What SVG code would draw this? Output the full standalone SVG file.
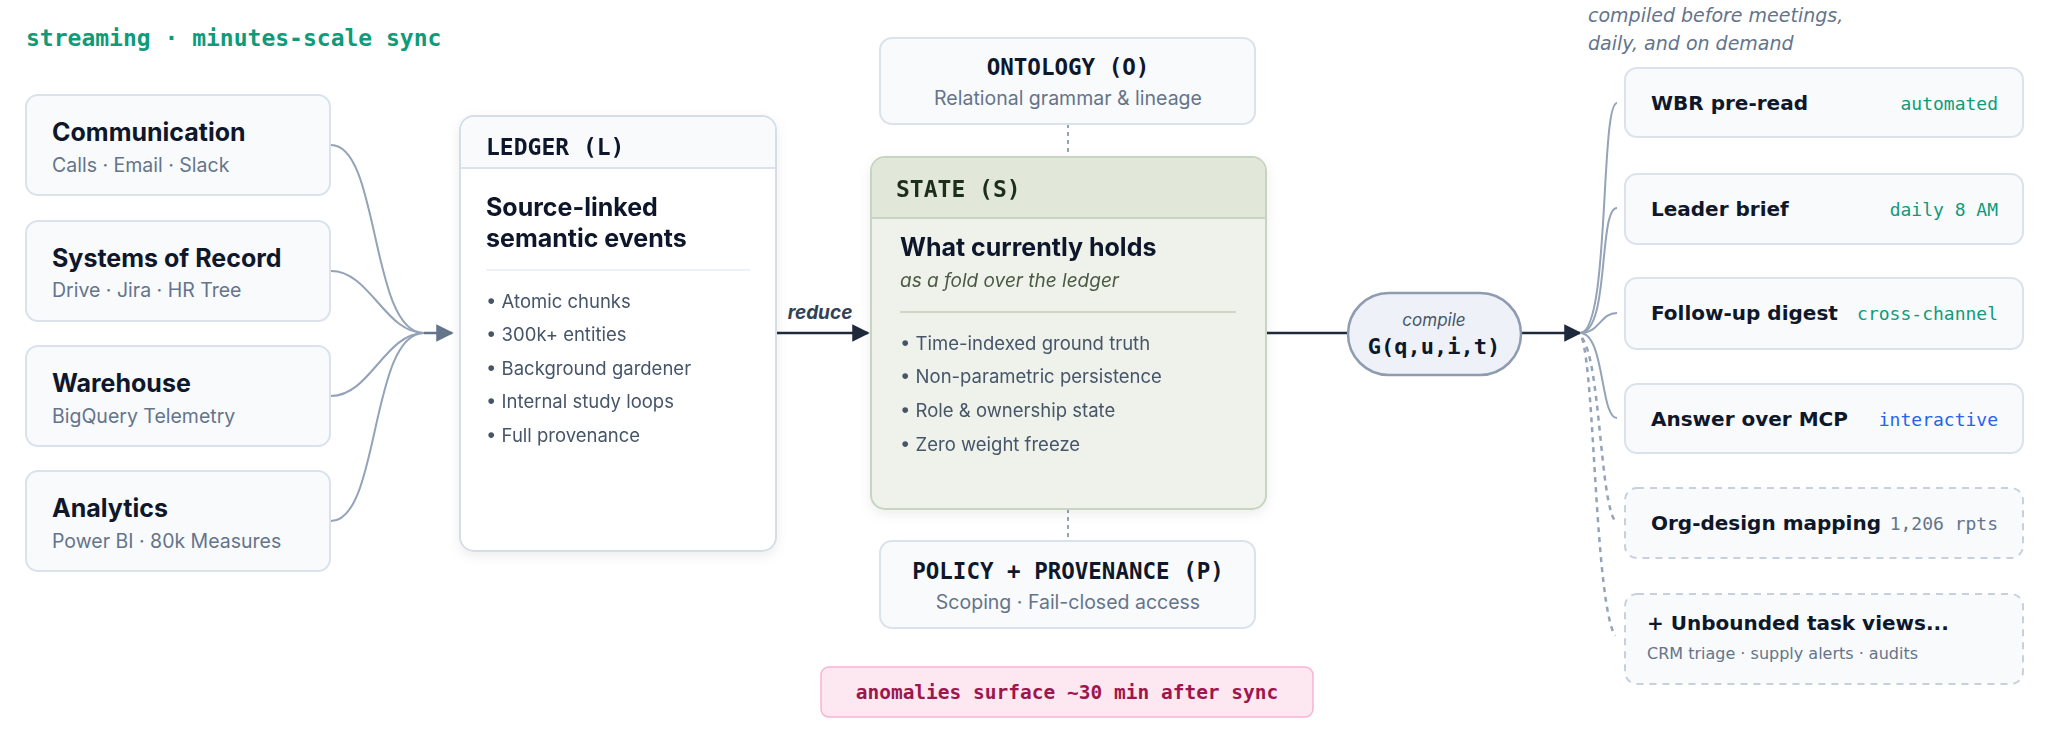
<svg xmlns="http://www.w3.org/2000/svg" width="2048" height="736" viewBox="0 0 2048 736">
<defs>
<style>
.box{fill:#f8fafc;stroke:#dbe2ec;stroke-width:2}
.t{font-family:Inter,"Liberation Sans",sans-serif;font-weight:700;font-size:25px;fill:#0f172a}
.s{font-family:Inter,"Liberation Sans",sans-serif;font-size:19.5px;fill:#64748b}
.m{font-family:"DejaVu Sans Mono","Liberation Mono",monospace;font-weight:700}
.b{font-family:Inter,"Liberation Sans",sans-serif;font-size:18.5px;fill:#475569}
.r{font-family:"DejaVu Sans","Liberation Sans",sans-serif;font-weight:700;font-size:20px;fill:#0f172a}
.rm{font-family:"DejaVu Sans Mono","Liberation Mono",monospace;font-size:18px;text-anchor:end}
.c{fill:none;stroke:#94a3b8;stroke-width:2}
.d{fill:none;stroke:#94a3b8;stroke-width:2.5;stroke-dasharray:5 5}
</style>
<marker id="ag" viewBox="0 0 10 10" refX="9" refY="5" markerWidth="7" markerHeight="7" orient="auto"><path d="M0 0L10 5L0 10z" fill="#64748b"/></marker>
<marker id="ak" viewBox="0 0 10 10" refX="9" refY="5" markerWidth="7" markerHeight="7" orient="auto"><path d="M0 0L10 5L0 10z" fill="#1e293b"/></marker>
<filter id="sh" x="-10%" y="-10%" width="120%" height="130%"><feDropShadow dx="0" dy="4" stdDeviation="6" flood-color="#0f172a" flood-opacity="0.07"/></filter>
</defs>
<rect width="2048" height="736" fill="#fff"/>
<text x="26" y="46" class="m" font-size="23" fill="#0f9b7a">streaming · minutes-scale sync</text>

<g id="connectors">
<path class="c" d="M331 145C380 145 370 333 424 333"/>
<path class="c" d="M331 271C370 271 385 333 424 333"/>
<path class="c" d="M331 396C370 396 385 333 424 333"/>
<path class="c" d="M331 521C380 521 370 333 424 333"/>
<path d="M424 333H452" stroke="#64748b" stroke-width="2.5" marker-end="url(#ag)"/>
<path d="M776 333H868" stroke="#1e293b" stroke-width="2.5" marker-end="url(#ak)"/>
<text x="820" y="319" font-family="Inter,'Liberation Sans',sans-serif" font-size="19" font-weight="700" font-style="italic" fill="#334155" text-anchor="middle">reduce</text>
<path d="M1068 124V157M1068 509V541" stroke="#94a3b8" stroke-width="2" stroke-dasharray="4 4"/>
<path d="M1266 333H1348" stroke="#1e293b" stroke-width="2.5"/>
<path d="M1521 333H1580" stroke="#1e293b" stroke-width="2.5" marker-end="url(#ak)"/>
<path class="c" d="M1580 333C1610 333 1600 103 1617 103"/>
<path class="c" d="M1580 333C1610 333 1598 208 1617 208"/>
<path class="c" d="M1580 333C1600 333 1600 313 1617 313"/>
<path class="c" d="M1580 333C1605 333 1600 418 1617 418"/>
<path class="d" d="M1582 338C1600 360 1600 500 1615 521"/>
<path class="d" d="M1582 338C1595 380 1595 600 1615 636"/>
</g>

<g id="communication"><rect class="box" x="26" y="95" width="304" height="100" rx="12"/><text class="t" x="52" y="141">Communication</text><text class="s" x="52" y="172">Calls · Email · Slack</text></g>
<g id="systems"><rect class="box" x="26" y="221" width="304" height="100" rx="12"/><text class="t" x="52" y="267">Systems of Record</text><text class="s" x="52" y="297">Drive · Jira · HR Tree</text></g>
<g id="warehouse"><rect class="box" x="26" y="346" width="304" height="100" rx="12"/><text class="t" x="52" y="392">Warehouse</text><text class="s" x="52" y="423">BigQuery Telemetry</text></g>
<g id="analytics"><rect class="box" x="26" y="471" width="304" height="100" rx="12"/><text class="t" x="52" y="517">Analytics</text><text class="s" x="52" y="548">Power BI · 80k Measures</text></g>

<g id="ledger" filter="url(#sh)">
<rect x="460" y="116" width="316" height="435" rx="14" fill="#fff" stroke="#d5dde8" stroke-width="2"/>
<path d="M461 168V130A13 13 0 0 1 474 117H762A13 13 0 0 1 775 130V168Z" fill="#f8fafc"/>
<path d="M461 168H775" stroke="#dbe2ec" stroke-width="2"/>
<text x="486" y="155" class="m" font-size="23" fill="#0f172a">LEDGER (L)</text>
<text class="t" x="486" y="216" font-size="22">Source-linked</text>
<text class="t" x="486" y="247" font-size="22">semantic events</text>
<path d="M486 270H750" stroke="#eef2f6" stroke-width="2"/>
<text class="b" x="486" y="308">•  Atomic chunks</text>
<text class="b" x="486" y="341">•  300k+ entities</text>
<text class="b" x="486" y="375">•  Background gardener</text>
<text class="b" x="486" y="408">•  Internal study loops</text>
<text class="b" x="486" y="442">•  Full provenance</text>
</g>

<g id="ontology"><rect class="box" x="880" y="38" width="375" height="86" rx="12" fill="#fff"/><text x="1068" y="75" class="m" font-size="22.5" fill="#0f172a" text-anchor="middle">ONTOLOGY (O)</text><text class="s" x="1068" y="105" text-anchor="middle" font-size="18.5">Relational grammar &amp; lineage</text></g>

<g id="state" filter="url(#sh)">
<rect x="871" y="157" width="395" height="352" rx="14" fill="#eef2ea" stroke="#c9d3c2" stroke-width="2"/>
<path d="M872 218V171A13 13 0 0 1 885 158H1252A13 13 0 0 1 1265 171V218Z" fill="#e1e8d9"/>
<path d="M872 218H1265" stroke="#c9d3c2" stroke-width="2"/>
<text x="896" y="197" class="m" font-size="23" fill="#1f2d1f">STATE (S)</text>
<text class="t" x="900" y="256" font-size="22" fill="#1e2b1a">What currently holds</text>
<text x="900" y="287" font-family="Inter,'Liberation Sans',sans-serif" font-size="19" font-style="italic" fill="#4b5a45">as a fold over the ledger</text>
<path d="M900 312H1236" stroke="#cfd8c8" stroke-width="2"/>
<text class="b" x="900" y="350" fill="#2f3b2b">•  Time-indexed ground truth</text>
<text class="b" x="900" y="383" fill="#2f3b2b">•  Non-parametric persistence</text>
<text class="b" x="900" y="417" fill="#2f3b2b">•  Role &amp; ownership state</text>
<text class="b" x="900" y="451" fill="#2f3b2b">•  Zero weight freeze</text>
</g>

<g id="policy"><rect class="box" x="880" y="541" width="375" height="87" rx="12" fill="#fff"/><text x="1068" y="579" class="m" font-size="22.5" fill="#0f172a" text-anchor="middle">POLICY + PROVENANCE (P)</text><text class="s" x="1068" y="609" text-anchor="middle" font-size="18.5">Scoping · Fail-closed access</text></g>

<g id="anomalies"><rect x="821" y="667" width="492" height="50" rx="8" fill="#fde7f1" stroke="#f7b4d2" stroke-width="1.5"/><text x="1067" y="699" class="m" font-size="19.5" fill="#9d174d" text-anchor="middle">anomalies surface ~30 min after sync</text></g>

<g id="compile"><rect x="1348" y="293" width="173" height="82" rx="41" fill="#eef2f8" stroke="#8e9bb0" stroke-width="2.5"/><text x="1434" y="326" font-family="Inter,'Liberation Sans',sans-serif" font-size="17" font-style="italic" fill="#475569" text-anchor="middle">compile</text><text x="1434" y="354" class="m" font-size="22" fill="#0f172a" text-anchor="middle">G(q,u,i,t)</text></g>

<text x="1588" y="22" font-family="'DejaVu Sans','Liberation Sans',sans-serif" font-size="19" font-style="italic" fill="#64748b">compiled before meetings,</text>
<text x="1588" y="50" font-family="'DejaVu Sans','Liberation Sans',sans-serif" font-size="19" font-style="italic" fill="#64748b">daily, and on demand</text>

<g id="wbr"><rect class="box" x="1625" y="68" width="398" height="69" rx="12" fill="#fff"/><text class="r" x="1651" y="110">WBR pre-read</text><text class="rm" x="1998" y="110" fill="#0f9b7a">automated</text></g>
<g id="leader"><rect class="box" x="1625" y="174" width="398" height="70" rx="12" fill="#fff"/><text class="r" x="1651" y="216">Leader brief</text><text class="rm" x="1998" y="216" fill="#0f9b7a">daily 8 AM</text></g>
<g id="followup"><rect class="box" x="1625" y="278" width="398" height="71" rx="12" fill="#fff"/><text class="r" x="1651" y="320">Follow-up digest</text><text class="rm" x="1998" y="320" fill="#0f9b7a">cross-channel</text></g>
<g id="answer"><rect class="box" x="1625" y="384" width="398" height="69" rx="12" fill="#fff"/><text class="r" x="1651" y="426">Answer over MCP</text><text class="rm" x="1998" y="426" fill="#2563eb">interactive</text></g>
<g id="orgdesign"><rect x="1625" y="488" width="398" height="70" rx="12" fill="#f8fafc" stroke="#c7d0dc" stroke-width="2" stroke-dasharray="7 6"/><text class="r" x="1651" y="530" fill="#475569">Org-design mapping</text><text class="rm" x="1998" y="530" fill="#64748b">1,206 rpts</text></g>
<g id="unbounded"><rect x="1625" y="594" width="398" height="90" rx="12" fill="#f8fafc" stroke="#c7d0dc" stroke-width="2" stroke-dasharray="7 6"/><text class="r" x="1647" y="630" font-size="18">+ Unbounded task views...</text><text x="1647" y="659" font-family="'DejaVu Sans','Liberation Sans',sans-serif" font-size="16" fill="#64748b">CRM triage · supply alerts · audits</text></g>
</svg>
